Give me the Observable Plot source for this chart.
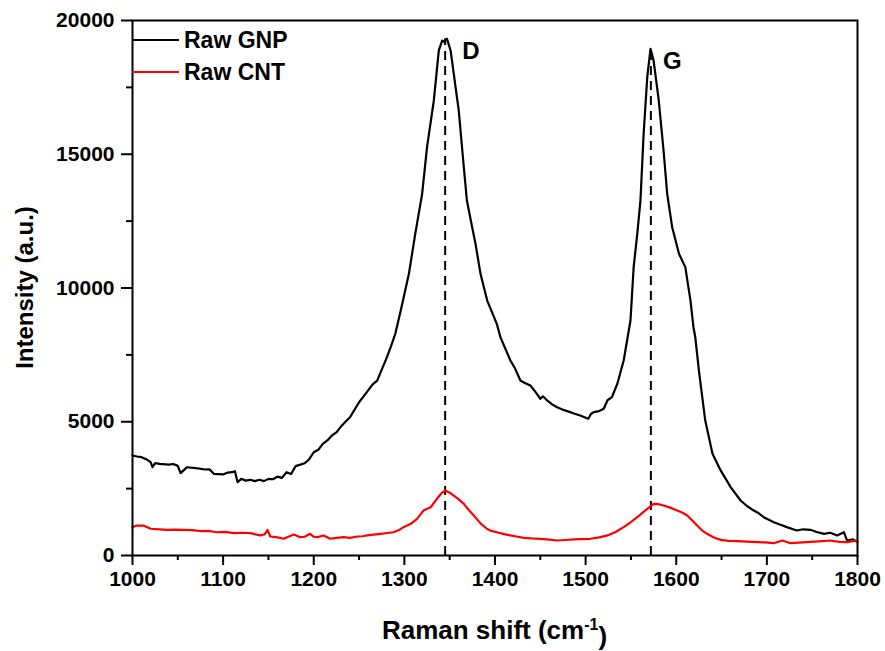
<!DOCTYPE html>
<html>
<head>
<meta charset="utf-8">
<script src="https://cdn.jsdelivr.net/npm/d3@7"></script>
<script src="https://cdn.jsdelivr.net/npm/@observablehq/plot@0.6"></script>
<style>
  html, body { margin: 0; padding: 0; background: #fff; }
  #chart svg { display: block; }
</style>
</head>
<body>
<div id="chart"></div>
<script>
// ---- data ----
const gnpShift = [1000,1005,1010,1015,1020,1022,1025,1030,1040,1045,1050,1053,1057,1060,1070,1080,1085,1090,1100,1105,1110,1113,1116,1120,1125,1130,1135,1140,1145,1150,1155,1160,1165,1170,1175,1180,1190,1195,1200,1205,1210,1215,1220,1225,1230,1235,1240,1245,1250,1255,1260,1265,1270,1275,1280,1285,1290,1296,1305,1312,1319.6,1325,1332.5,1338,1341.7,1344,1345.4,1347,1351,1356,1360,1365.6,1369,1374.8,1378.5,1384,1391.4,1402,1406,1417,1422,1428,1433,1439,1445,1450,1453,1457.6,1463,1468.6,1475,1483,1488,1494,1498,1503,1506,1509,1515,1520,1524,1529,1535,1542,1549.5,1553,1557,1560.5,1564,1568,1571.6,1575,1580.7,1586,1590,1595.5,1603,1610,1615.7,1619,1621,1625,1632,1640,1649,1660,1671,1678,1685.6,1690,1696.6,1707.6,1715,1722,1733,1740,1748,1755,1763,1770,1777.5,1785,1788.5,1795,1800];
const gnpIntensity = [3740,3700,3675,3600,3490,3300,3450,3425,3400,3420,3350,3080,3200,3300,3265,3215,3220,3050,3030,3100,3115,3150,2740,2865,2800,2830,2780,2830,2780,2865,2850,2950,2900,3115,3050,3340,3450,3600,3860,3950,4175,4300,4485,4600,4820,5000,5170,5450,5730,5950,6170,6400,6540,6950,7350,7800,8290,9160,10530,12025,13520,15265,17010,18880,19250,19200,19300,19315,18880,17630,16635,14515,13270,12270,11650,10530,9530,8660,8160,7290,7000,6540,6450,6355,6100,5860,5950,5795,5650,5545,5450,5360,5300,5235,5180,5110,5300,5360,5400,5485,5795,5920,6420,7290,8785,10780,12025,13270,15765,17880,18940,18505,17010,15140,13520,12270,11280,10780,9530,8535,8160,6915,5045,3800,3180,2555,2055,1850,1680,1600,1430,1245,1150,1060,935,980,960,880,810,850,750,870,560,600,500];

const cntShift = [1000,1005,1012,1020,1030,1038,1047,1057,1066,1075,1084,1093,1102,1112,1121,1130,1141,1146,1149,1152,1160,1167,1172,1178,1185,1190,1196,1200,1204,1211,1218,1225,1233,1240,1248,1254,1259,1266,1274,1281,1288,1294,1299,1307,1314,1321,1329,1336,1341,1345,1350,1354.5,1360,1365.6,1371,1376.6,1384,1391,1396,1402,1410,1417,1425,1432,1440,1450,1460,1468.6,1478,1487,1495,1505,1515,1524,1533,1542,1550,1557,1563,1568,1575,1580,1586,1594,1601,1607,1612,1618,1623,1628,1634,1641,1649,1658,1667,1678,1689,1698,1707.6,1717,1726,1735,1744,1757,1770,1780,1788.5,1795,1800];
const cntIntensity = [1060,1120,1120,1000,980,960,970,960,950,910,920,870,880,835,850,835,750,800,960,710,680,625,700,785,685,700,810,700,685,750,625,660,685,660,710,720,750,780,810,840,870,950,1060,1185,1370,1680,1805,2120,2330,2430,2350,2240,2100,1930,1700,1495,1200,1000,920,870,800,750,700,660,640,625,590,560,580,600,610,625,680,750,880,1060,1250,1430,1600,1745,1930,1920,1870,1780,1680,1600,1495,1300,1120,950,810,680,585,550,535,520,500,490,460,560,460,480,500,530,560,510,500,540,560];

const seriesNames = ["Raw GNP", "Raw CNT"];
const seriesColors = ["#000000", "#ff0000"];

const peakLabels = ["D", "G"];
const peakShift = [1345, 1572];
const peakTop = [19300, 18950];

const xTicks = [1000, 1100, 1200, 1300, 1400, 1500, 1600, 1700, 1800];
const xMinor = [1050, 1150, 1250, 1350, 1450, 1550, 1650, 1750];
const yTicks = [0, 5000, 10000, 15000, 20000];
const yMinor = [2500, 7500, 12500, 17500];

const xTitle = "Raman shift (cm";
const xTitleSup = "-1";
const yTitle = "Intensity (a.u.)";

// ---- tables built from the arrays ----
const gnp = gnpShift.map((x, i) => ({x, y: gnpIntensity[i]}));
const cnt = cntShift.map((x, i) => ({x, y: cntIntensity[i]}));
const peaks = peakLabels.map((label, i) => ({label, x: peakShift[i], y: peakTop[i]}));

const FONT = "'Liberation Sans', Arial, Helvetica, sans-serif";

function legendMark(index, scales, values, dims) {
  const g = d3.create("svg:g").attr("font-family", FONT).attr("font-weight", "bold")
    .attr("font-size", 23).attr("text-anchor", "start");
  const x0 = dims.marginLeft;
  seriesNames.forEach((name, i) => {
    const yy = dims.marginTop + 20 + i * 32;
    g.append("line").attr("x1", x0).attr("x2", x0 + 47).attr("y1", yy).attr("y2", yy)
      .attr("stroke", seriesColors[i]).attr("stroke-width", 2);
    g.append("text").attr("x", x0 + 52).attr("y", yy).attr("dy", "0.36em")
      .attr("text-anchor", "start").attr("fill", "#000").text(name);
  });
  return g.node();
}

function titlesMark(index, scales, values, dims) {
  const g = d3.create("svg:g").attr("font-family", FONT).attr("font-weight", "bold").attr("fill", "#000");
  const cx = dims.marginLeft + (dims.width - dims.marginLeft - dims.marginRight) / 2;
  const t = g.append("text").attr("x", cx).attr("y", dims.height - 12).attr("text-anchor", "middle").attr("font-size", 26);
  t.append("tspan").text(xTitle);
  t.append("tspan").attr("dy", "-0.55em").attr("font-size", 16).text(xTitleSup);
  t.append("tspan").attr("dy", "0.55em").text(")");
  const cy = dims.marginTop + (dims.height - dims.marginTop - dims.marginBottom) / 2;
  g.append("text").attr("transform", `translate(33,${cy}) rotate(-90)`).attr("text-anchor", "middle")
    .attr("font-size", 24).text(yTitle);
  return g.node();
}

const labelStyle = {x: "x", y: "y", text: "label", textAnchor: "start", fontSize: 24, fontWeight: "bold", fill: "#000"};

const chart = Plot.plot({
  width: 885,
  height: 651,
  marginLeft: 132,
  marginRight: 28,
  marginTop: 20,
  marginBottom: 96,
  style: {fontFamily: FONT, fontWeight: "bold", color: "#000", background: "#fff"},
  x: {domain: [1000, 1800]},
  y: {domain: [0, 20000]},
  marks: [
    Plot.ruleX(peaks, {x: "x", y1: 0, y2: "y", stroke: "#000", strokeWidth: 2, strokeDasharray: "9,6"}),
    Plot.line(gnp, {x: "x", y: "y", stroke: seriesColors[0], strokeWidth: 2.2}),
    Plot.line(cnt, {x: "x", y: "y", stroke: seriesColors[1], strokeWidth: 2.2}),
    Plot.text(peaks, {...labelStyle, filter: (d) => d.label === "D", dx: 17, dy: 12}),
    Plot.text(peaks, {...labelStyle, filter: (d) => d.label === "G", dx: 12, dy: 13}),
    Plot.frame({stroke: "#000", strokeWidth: 2}),
    Plot.axisX({ticks: xTicks, tickSize: 10, tickPadding: 6, tickFormat: d3.format("d"), fontSize: 21, fontWeight: "bold", strokeWidth: 2, label: null}),
    Plot.axisX({ticks: xMinor, tickSize: 5, tickFormat: () => "", strokeWidth: 2, label: null}),
    Plot.axisY({ticks: yTicks, tickSize: 11, tickPadding: 7, tickFormat: d3.format("d"), fontSize: 21, fontWeight: "bold", strokeWidth: 2, label: null}),
    Plot.axisY({ticks: yMinor, tickSize: 6, tickFormat: () => "", strokeWidth: 2, label: null}),
    legendMark,
    titlesMark
  ]
});

document.getElementById("chart").appendChild(chart);
</script>
</body>
</html>
